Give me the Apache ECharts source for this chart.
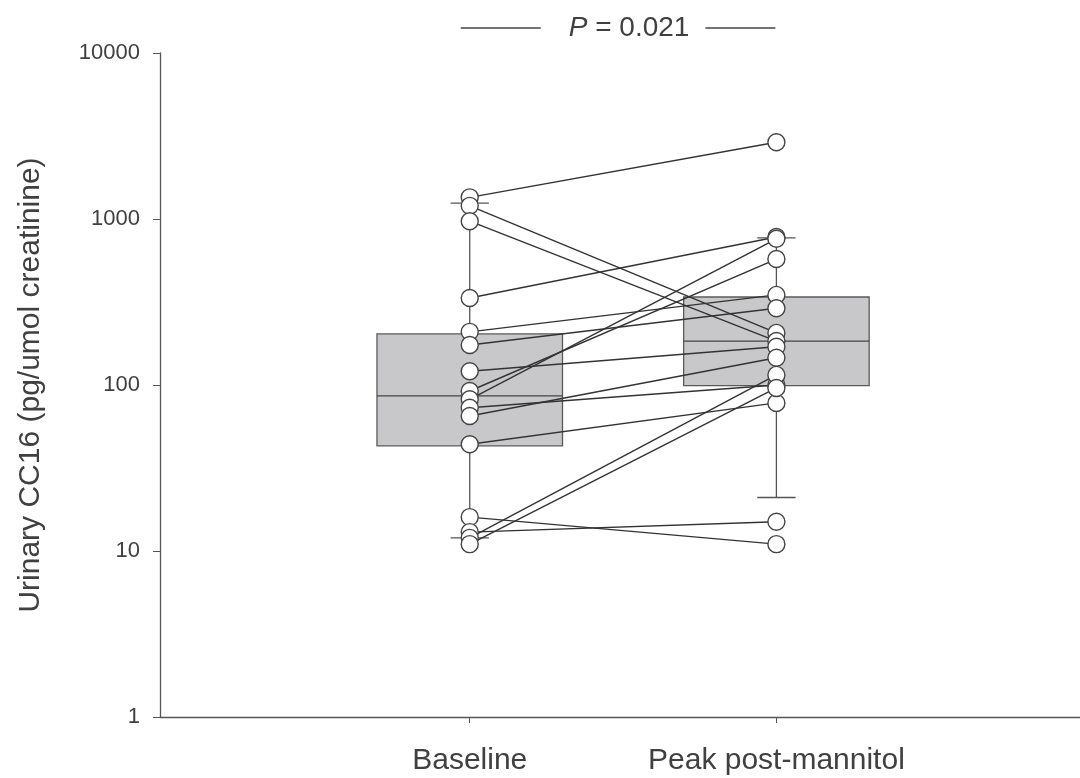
<!DOCTYPE html>
<html>
<head>
<meta charset="utf-8">
<script src="https://cdn.jsdelivr.net/npm/echarts@6/dist/echarts.min.js"></script>
<style>
html,body{margin:0;padding:0;background:#fff;}
#chart{width:1080px;height:778px;}
</style>
</head>
<body>
<div id="chart"></div>
<script>
// ---- data ----
const categories = ['Baseline', 'Peak post-mannitol'];
const categoryPositions = [1, 2];
// paired subject values (same index = same subject)
const baselineValues = [1350, 1200, 970, 334, 209, 174, 121, 92, 82, 73, 65, 44, 16, 13, 12, 11];
const peakValues     = [2900, 206, 184, 779, 349, 290, 170, 574, 760, 100, 146, 78, 11, 15, 115, 96];
// box stats: [whiskerLow, Q1, median, Q3, whiskerHigh]
const baselineBox = [12, 43, 86, 203, 1248];
const peakBox     = [21, 99, 184, 339, 769];
const yTicks = [1, 10, 100, 1000, 10000];
const pValueText = '= 0.021';
const yAxisTitle = 'Urinary CC16 (pg/umol creatinine)';

// ---- styles ----
const FONT = '"Liberation Sans", Arial, sans-serif';
const TEXT = '#404040';
const AXIS = '#555';
const BOX_W = 0.605;   // in x-data units
const CAP_W = 0.125;

const boxData = [
  [categoryPositions[0]].concat(baselineBox),
  [categoryPositions[1]].concat(peakBox)
];
const pairData = baselineValues.map((b, i) => [categoryPositions[0], b, categoryPositions[1], peakValues[i]]);
const pointData = baselineValues.map(v => [categoryPositions[0], v])
  .concat(peakValues.map(v => [categoryPositions[1], v]));

const chart = echarts.init(document.getElementById('chart'), null, {renderer: 'canvas'});

const option = {
  backgroundColor: '#fff',
  animation: false,
  grid: {left: 160, right: 0, top: 53, bottom: 61, containLabel: false},
  xAxis: {
    type: 'value', min: -0.01, max: 2.99,
    splitLine: {show: false},
    axisLine: {show: true, onZero: false, lineStyle: {color: AXIS, width: 1.3}},
    axisTick: {show: true, length: 6, lineStyle: {color: AXIS}, customValues: categoryPositions},
    axisLabel: {
      customValues: categoryPositions,
      margin: 29,
      fontFamily: FONT, fontSize: 30, color: TEXT,
      formatter: v => categories[categoryPositions.indexOf(v)] || ''
    }
  },
  yAxis: {
    type: 'log', logBase: 10, min: yTicks[0], max: yTicks[yTicks.length - 1],
    splitLine: {show: false},
    axisLine: {show: true, onZero: false, lineStyle: {color: AXIS, width: 1.3}},
    axisTick: {show: true, length: 7, lineStyle: {color: AXIS}},
    axisLabel: {margin: 20, fontFamily: FONT, fontSize: 22, color: TEXT,
      formatter: v => String(Math.round(v))},
    name: yAxisTitle,
    nameLocation: 'middle',
    nameGap: 114,
    nameRotate: 90,
    nameTextStyle: {fontFamily: FONT, fontSize: 30, color: TEXT}
  },
  series: [
    {
      type: 'custom',
      name: 'box',
      z: 1,
      data: boxData,
      encode: {x: 0, y: [1, 2, 3, 4, 5]},
      renderItem: function (params, api) {
        const x = api.value(0);
        const lo = api.value(1), q1 = api.value(2), med = api.value(3), q3 = api.value(4), hi = api.value(5);
        const pL = api.coord([x - BOX_W / 2, q3]);
        const pR = api.coord([x + BOX_W / 2, q1]);
        const pMedL = api.coord([x - BOX_W / 2, med]);
        const pMedR = api.coord([x + BOX_W / 2, med]);
        const pHi = api.coord([x, hi]);
        const pLo = api.coord([x, lo]);
        const pQ3 = api.coord([x, q3]);
        const pQ1 = api.coord([x, q1]);
        const capL = api.coord([x - CAP_W / 2, hi])[0];
        const capR = api.coord([x + CAP_W / 2, hi])[0];
        const ls = {stroke: '#555', lineWidth: 1.3};
        return {
          type: 'group',
          children: [
            {type: 'line', shape: {x1: pHi[0], y1: pHi[1], x2: pQ3[0], y2: pQ3[1]}, style: ls},
            {type: 'line', shape: {x1: pLo[0], y1: pLo[1], x2: pQ1[0], y2: pQ1[1]}, style: ls},
            {type: 'line', shape: {x1: capL, y1: pHi[1], x2: capR, y2: pHi[1]}, style: ls},
            {type: 'line', shape: {x1: capL, y1: pLo[1], x2: capR, y2: pLo[1]}, style: ls},
            {type: 'rect', shape: {x: pL[0], y: pL[1], width: pR[0] - pL[0], height: pR[1] - pL[1]},
              style: {fill: '#c8c8ca', stroke: '#5a5a5a', lineWidth: 1.3}},
            {type: 'line', shape: {x1: pMedL[0], y1: pMedL[1], x2: pMedR[0], y2: pMedR[1]},
              style: {stroke: '#444', lineWidth: 1.3}}
          ]
        };
      }
    },
    {
      type: 'custom',
      name: 'pairs',
      z: 2,
      data: pairData,
      encode: {x: [0, 2], y: [1, 3]},
      renderItem: function (params, api) {
        const a = api.coord([api.value(0), api.value(1)]);
        const b = api.coord([api.value(2), api.value(3)]);
        return {type: 'line', shape: {x1: a[0], y1: a[1], x2: b[0], y2: b[1]},
          style: {stroke: '#333', lineWidth: 1.4}};
      }
    },
    {
      type: 'scatter',
      name: 'points',
      z: 3,
      data: pointData,
      symbol: 'circle',
      symbolSize: 17,
      itemStyle: {color: '#fff', borderColor: '#444', borderWidth: 1.4, opacity: 1}
    }
  ]
};

chart.setOption(option);

// significance annotation placed relative to the two group positions
const pA = chart.convertToPixel({xAxisIndex: 0}, categoryPositions[0]);
const pB = chart.convertToPixel({xAxisIndex: 0}, categoryPositions[1]);
const mid = (pA + pB) / 2;
const annY = 28;
chart.setOption({
  graphic: [
    {type: 'line', shape: {x1: pA - 9, y1: annY, x2: pA + 71, y2: annY}, style: {stroke: '#444', lineWidth: 1.3}},
    {type: 'line', shape: {x1: pB - 71, y1: annY, x2: pB - 1, y2: annY}, style: {stroke: '#444', lineWidth: 1.3}},
    {type: 'text', x: mid + 6, y: annY, style: {
      text: '{i|P} ' + pValueText,
      align: 'center', verticalAlign: 'middle',
      fontFamily: FONT, fontSize: 28, fill: TEXT,
      rich: {i: {fontStyle: 'italic', fontFamily: FONT, fontSize: 28, fill: TEXT}}
    }}
  ]
});
</script>
</body>
</html>
